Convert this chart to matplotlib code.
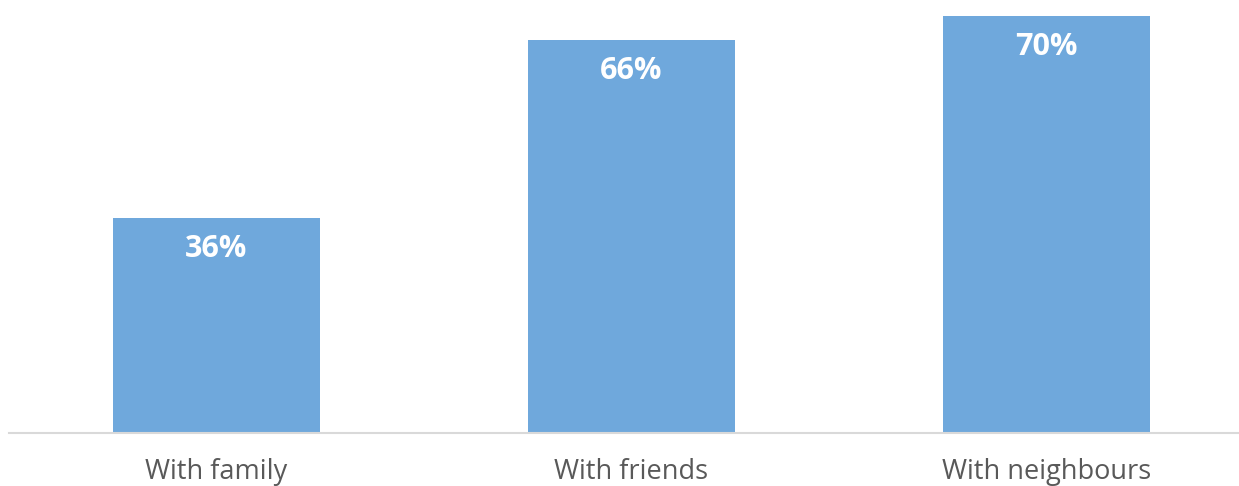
import matplotlib
matplotlib.use("Agg")
import matplotlib.pyplot as plt
from matplotlib.transforms import blended_transform_factory

categories = ["With family", "With friends", "With neighbours"]
values = [36, 66, 70]
value_labels = ["36%", "66%", "70%"]

W, H = 1239, 486
fig = plt.figure(figsize=(W / 100, H / 100), dpi=100)
fig.patch.set_facecolor("white")

# axes spans from x=9px, slightly past the right edge; baseline at y=432.5px
left = 9 / W
width = 1245 / W
bottom = (H - 432.5) / H
top_px = 432.5 - 72 * 5.95
height = (432.5 - top_px) / H
ax = fig.add_axes([left, bottom, width, height])

x = list(range(len(categories)))
ax.bar(x, values, width=0.5, color="#6fa8dc", zorder=2)
ax.set_xlim(-0.5, 2.5)
ax.set_ylim(0, 72)

for s in ["top", "right", "left"]:
    ax.spines[s].set_visible(False)
ax.spines["bottom"].set_color("#d9d9d9")
ax.spines["bottom"].set_linewidth(1.5)
ax.set_yticks([])
ax.set_xticks([])

font = "Open Sans"
trans = blended_transform_factory(ax.transData, fig.transFigure)
for xi, cat in zip(x, categories):
    ax.text(xi, (H - 479) / H, cat, transform=trans, ha="center", va="baseline",
            fontsize=19.5, color="#595959", family=font)

for xi, v, lab in zip(x, values, value_labels):
    ax.annotate(lab, xy=(xi, v), xytext=(0, -31 / 1.389), textcoords="offset points",
                ha="center", va="center", fontsize=22, fontweight="bold",
                color="white", family=font)

fig.savefig("out.png", dpi=100, facecolor="white")
